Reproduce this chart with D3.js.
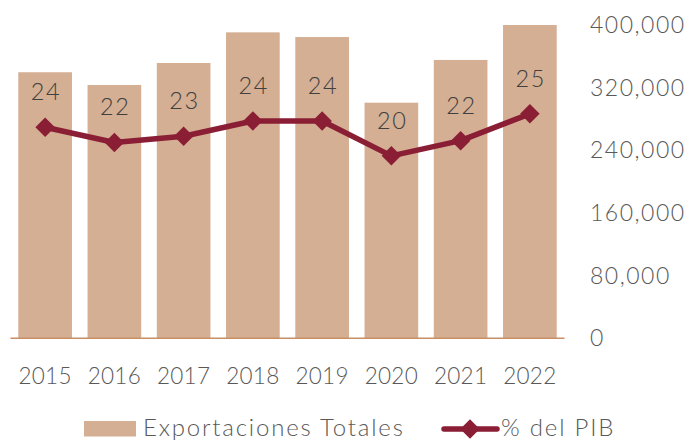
<!DOCTYPE html>
<html>
<head>
<meta charset="utf-8">
<script src="https://cdn.jsdelivr.net/npm/d3@7"></script>
<style>
  body { margin: 0; background: #fff; }
  text { font-family: "Lato", "Open Sans", sans-serif; font-weight: 300; }
</style>
</head>
<body>
<div id="chart"></div>
<script>
/**
 * DATA
 * */
const years = ["2015", "2016", "2017", "2018", "2019", "2020", "2021", "2022"];
const exportaciones = [340000, 323700, 351800, 391000, 385000, 301100, 355700, 400400];
const pctPib = [23.6, 21.9, 22.6, 24.3, 24.3, 20.4, 22.1, 25.1];
const yTicks = [0, 80000, 160000, 240000, 320000, 400000];

/**
 * CONSTANTS
 * */
const width = 694,
  height = 441;
const barColor = "#D4AF93",
  lineColor = "#8A1E35",
  axisColor = "#C98F64",
  textColor = "#595959",
  labelColor = "#404040";

const svg = d3.select("#chart")
  .append("svg")
  .attr("width", width)
  .attr("height", height);

// scales
const x = d3.scaleBand()
  .domain(years)
  .range([10.5, 564.5])
  .paddingInner(0.225)
  .paddingOuter(0.1125);

const y = d3.scaleLinear()
  .domain([0, 400000])
  .range([338.3, 25.3]);

// hidden secondary axis for the % line
const y2 = d3.scaleLinear()
  .domain([0, 35])
  .range([338.3, 25.3]);

// bars
svg.selectAll("rect.bar")
  .data(exportaciones)
  .join("rect")
  .attr("class", "bar")
  .attr("x", (d, i) => x(years[i]))
  .attr("width", x.bandwidth())
  .attr("y", d => y(d))
  .attr("height", d => y(0) - y(d))
  .attr("fill", barColor);

// baseline
svg.append("line")
  .attr("x1", x.range()[0])
  .attr("x2", x.range()[1])
  .attr("y1", y(0))
  .attr("y2", y(0))
  .attr("stroke", axisColor)
  .attr("stroke-width", 1.5);

// right axis (labels only)
const yAxis = svg.append("g")
  .attr("transform", "translate(590,0)")
  .call(d3.axisRight(y).tickValues(yTicks).tickSize(0).tickPadding(0).tickFormat(d3.format(",")));
yAxis.select(".domain").remove();
yAxis.selectAll("text")
  .attr("fill", textColor)
  .style("font-size", "23px")
  .style("letter-spacing", "1.5px");

// bottom axis (labels only)
const xAxis = svg.append("g")
  .attr("transform", `translate(0,${y(0)})`)
  .call(d3.axisBottom(x).tickSize(0).tickPadding(0));
xAxis.select(".domain").remove();
xAxis.selectAll("text")
  .attr("y", 45.5)
  .attr("dy", null)
  .attr("fill", textColor)
  .style("font-size", "22.5px")
  .style("letter-spacing", "0.3px");

// % line
const line = d3.line()
  .x((d, i) => x(years[i]) + x.bandwidth() / 2)
  .y(d => y2(d));

svg.append("path")
  .datum(pctPib)
  .attr("d", line)
  .attr("fill", "none")
  .attr("stroke", lineColor)
  .attr("stroke-width", 5.5)
  .attr("stroke-linejoin", "round");

const diamond = d3.symbol().type(d3.symbolSquare).size(190);

svg.selectAll("path.marker")
  .data(pctPib)
  .join("path")
  .attr("class", "marker")
  .attr("d", diamond)
  .attr("transform", (d, i) => `translate(${x(years[i]) + x.bandwidth() / 2},${y2(d)}) rotate(45)`)
  .attr("fill", lineColor);

// data labels
svg.selectAll("text.label")
  .data(pctPib)
  .join("text")
  .attr("class", "label")
  .attr("x", (d, i) => x(years[i]) + x.bandwidth() / 2 + 0.8)
  .attr("y", d => y2(d) - 27)
  .attr("text-anchor", "middle")
  .attr("fill", labelColor)
  .style("font-size", "23.5px")
  .style("letter-spacing", "1.5px")
  .text(d => d3.format(".0f")(d));

// legend
const legend = svg.append("g");
legend.append("rect")
  .attr("x", 84)
  .attr("y", 421)
  .attr("width", 52)
  .attr("height", 15.5)
  .attr("fill", barColor);
legend.append("text")
  .attr("x", 143)
  .attr("y", 436)
  .attr("fill", textColor)
  .style("font-size", "24px")
  .style("letter-spacing", "1.8px")
  .text("Exportaciones Totales");
legend.append("line")
  .attr("x1", 444)
  .attr("x2", 497)
  .attr("y1", 429)
  .attr("y2", 429)
  .attr("stroke", lineColor)
  .attr("stroke-width", 5.5)
  .attr("stroke-linecap", "round");
legend.append("path")
  .attr("d", diamond)
  .attr("transform", "translate(470,429) rotate(45)")
  .attr("fill", lineColor);
legend.append("text")
  .attr("x", 501)
  .attr("y", 436)
  .attr("fill", textColor)
  .style("font-size", "24px")
  .style("letter-spacing", "1.8px")
  .text("% del PIB");
</script>
</body>
</html>
